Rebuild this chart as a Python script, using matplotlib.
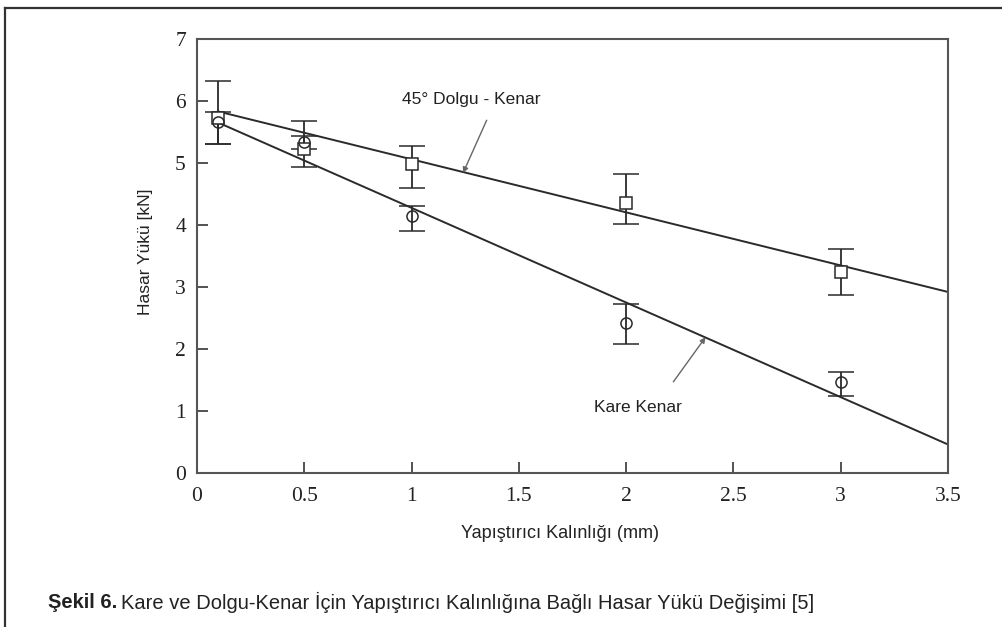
import matplotlib
matplotlib.use("Agg")
import matplotlib.pyplot as plt
from matplotlib.lines import Line2D

# ---- data ----
x_vals = [0.1, 0.5, 1.0, 2.0, 3.0]
sq_y = [5.73, 5.23, 4.98, 4.36, 3.25]
sq_lo = [5.31, 4.93, 4.60, 4.02, 2.87]
sq_hi = [6.33, 5.43, 5.28, 4.82, 3.61]
ci_y = [5.66, 5.34, 4.14, 2.42, 1.46]
ci_lo = [5.31, 5.22, 3.90, 2.08, 1.24]
ci_hi = [5.82, 5.67, 4.30, 2.73, 1.63]
fit_x = [0.1, 3.5]
fit_sq = [5.83, 2.92]
fit_ci = [5.65, 0.46]
x_ticks = [0, 0.5, 1, 1.5, 2, 2.5, 3, 3.5]
x_tick_labels = ["0", "0.5", "1", "1.5", "2", "2.5", "3", "3.5"]
y_ticks = [0, 1, 2, 3, 4, 5, 6, 7]

LC = "#2a2a2a"
SANS = ["Liberation Sans Narrow", "Liberation Sans", "DejaVu Sans"]
SERIF = ["Liberation Serif", "DejaVu Serif"]
ARROW = dict(arrowstyle="-|>", color="#666666", lw=1.0, mutation_scale=8, shrinkA=0, shrinkB=0)

fig = plt.figure(figsize=(10.02, 6.27), dpi=100)
ax = fig.add_axes([197 / 1002, 1 - 473 / 627, (948 - 197) / 1002, (473 - 39) / 627])

# fit lines
ax.plot(fit_x, fit_sq, color=LC, lw=1.4)
ax.plot(fit_x, fit_ci, color=LC, lw=1.4)

# error bars + markers
sq_err = [[y - l for y, l in zip(sq_y, sq_lo)], [h - y for y, h in zip(sq_y, sq_hi)]]
ci_err = [[y - l for y, l in zip(ci_y, ci_lo)], [h - y for y, h in zip(ci_y, ci_hi)]]
ax.errorbar(x_vals, sq_y, yerr=sq_err, fmt="s", mfc="white", mec=LC, ms=8, mew=1.1,
            ecolor=LC, elinewidth=1.3, capsize=9.5, capthick=1.3)
ax.errorbar(x_vals, ci_y, yerr=ci_err, fmt="o", mfc="none", mec=LC, ms=8, mew=1.1,
            ecolor=LC, elinewidth=1.3, capsize=9.5, capthick=1.3)

ax.set_xlim(0, 3.5)
ax.set_ylim(0, 7)
ax.set_xticks(x_ticks)
ax.set_xticklabels(x_tick_labels)
ax.set_yticks(y_ticks)
for lab in ax.get_xticklabels() + ax.get_yticklabels():
    lab.set_family(SERIF)
    lab.set_fontsize(15.5)
    lab.set_color("#222222")
ax.tick_params(direction="in", length=8, width=1.3, color="#444444")
ax.tick_params(axis="x", pad=10)
ax.tick_params(axis="y", pad=8)
for sp in ax.spines.values():
    sp.set_color("#555555")
    sp.set_linewidth(1.5)

ax.set_ylabel("Hasar Yükü [kN]", family=SANS, fontsize=12.5, color="#222222")
ax.yaxis.set_label_coords(-0.058, 0.51)
ax.set_xlabel("Yapıştırıcı Kalınlığı (mm)", family=SANS, fontsize=13, color="#222222",
              va="center")
ax.xaxis.set_label_coords(0.483, -(533 - 473) / 434)

# annotations
ax.annotate("", xy=(1.24, 4.84), xytext=(1.35, 5.69), arrowprops=ARROW)
ax.text(1.28, 6.02, "45° Dolgu - Kenar", family=SANS, fontsize=12.5, color="#222222",
        ha="center", va="center")
ax.annotate("", xy=(2.37, 2.19), xytext=(2.22, 1.47), arrowprops=ARROW)
ax.text(2.056, 1.06, "Kare Kenar", family=SANS, fontsize=12.5, color="#222222",
        ha="center", va="center")

# caption
cap_y = 1 - 602 / 627
t1 = fig.text(48 / 1002, cap_y, "Şekil 6.", family=SANS, fontsize=14.5,
              fontweight="bold", color="#222222", va="center", ha="left")
fig.canvas.draw()
bb = t1.get_window_extent()
fig.text((bb.x1 + 4) / 1002, cap_y,
         "Kare ve Dolgu-Kenar İçin Yapıştırıcı Kalınlığına Bağlı Hasar Yükü Değişimi [5]",
         family=SANS, fontsize=14.5, color="#222222", va="center", ha="left")

# outer frame (top and left only)
fig.add_artist(Line2D([5 / 1002, 1.0], [1 - 8 / 627, 1 - 8 / 627], transform=fig.transFigure,
                      color="#333333", lw=1.6))
fig.add_artist(Line2D([5 / 1002, 5 / 1002], [1 - 8 / 627, 0.0], transform=fig.transFigure,
                      color="#333333", lw=1.6))

fig.savefig("out.png", dpi=100)
